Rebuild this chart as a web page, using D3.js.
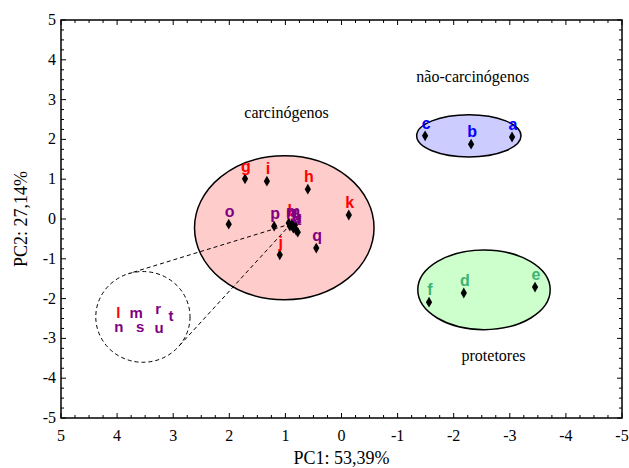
<!DOCTYPE html>
<html><head><meta charset="utf-8">
<script src="https://cdn.jsdelivr.net/npm/d3@7"></script>
<style>body{margin:0;background:#fff}</style>
</head><body><svg id="c" width="629" height="468"></svg>
<script>
// Data
const names  = ["a","b","c","d","e","f","g","h","i","j","k","l","m","n","o","p","q","r","s","t","u"];
const pc1    = [-3.04,-2.31,-1.49,-2.18,-3.45,-1.56,1.72,0.60,1.33,1.10,-0.13,0.94,0.88,0.92,2.01,1.20,0.45,0.83,0.86,0.78,0.81];
const pc2    = [2.06,1.88,2.09,-1.86,-1.71,-2.09,1.01,0.75,0.95,-0.90,0.10,-0.10,-0.13,-0.18,-0.13,-0.18,-0.73,-0.15,-0.23,-0.33,-0.28];
const groups = ["nc","nc","nc","pr","pr","pr","cr","cr","cr","cr","cr","cr","cp","cp","cp","cp","cp","cp","cp","cp","cp"];
const xTicks = [5,4,3,2,1,0,-1,-2,-3,-4,-5];
const yTicks = [5,4,3,2,1,0,-1,-2,-3,-4,-5];
// group ellipses: [cx, cy, rx, ry] in data units
const ellNames = ["cr","nc","pr"];
const ellCx = [1.02, -2.27, -2.54];
const ellCy = [-0.22, 2.09, -1.78];
const ellRx = [1.60, 0.93, 1.18];
const ellRy = [1.81, 0.53, 1.00];
const ellFill = ["#ffcccc","#ccccff","#ccffcc"];
const groupTitles = ["carcinógenos","não-carcinógenos","protetores"];
const titleX = [0.98,-2.34,-2.71];
const titleY = [2.54,3.44,-3.57];
// zoom inset (data units)
const zoomCx = 3.54, zoomCy = -2.46, zoomRx = 0.84, zoomRy = 1.14;
const zoomFrom = [0.90, -0.12];
const zoomNames = ["l","m","r","t","n","s","u"];
const zoomX = [3.98, 3.66, 3.27, 3.04, 3.97, 3.59, 3.25];
const zoomY = [-2.49, -2.49, -2.39, -2.56, -2.84, -2.84, -2.86];
const colorOf = {l:"#ff0000",g:"#ff0000",h:"#ff0000",i:"#ff0000",j:"#ff0000",k:"#ff0000",
  a:"#0000ff",b:"#0000ff",c:"#0000ff",d:"#3cb371",e:"#3cb371",f:"#3cb371"};
const purple = "#800080";

const svg = d3.select("#c");
const L=61,R=622,T=20,B=418;
const x = d3.scaleLinear().domain([5,-5]).range([L,R]);
const y = d3.scaleLinear().domain([-5,5]).range([B,T]);
const serif = "Liberation Serif, Times New Roman, serif";
const sans = "Liberation Sans, Arial, sans-serif";

// ellipses
ellNames.forEach((g,i)=>{
  svg.append("ellipse").attr("cx",x(ellCx[i])).attr("cy",y(ellCy[i]))
    .attr("rx",Math.abs(x(ellCx[i]+ellRx[i])-x(ellCx[i])))
    .attr("ry",Math.abs(y(ellCy[i]+ellRy[i])-y(ellCy[i])))
    .attr("fill",ellFill[i]).attr("stroke","#000").attr("stroke-width",1.5);
  svg.append("text").attr("x",x(titleX[i])).attr("y",y(titleY[i])).attr("text-anchor","middle")
    .style("font-family",serif).attr("font-size",16).text(groupTitles[i]);
});

// zoom inset dashed circle + tangents
const zcx=x(zoomCx), zcy=y(zoomCy);
const zrx=Math.abs(x(zoomCx+zoomRx)-zcx), zry=Math.abs(y(zoomCy+zoomRy)-zcy);
svg.append("ellipse").attr("cx",zcx).attr("cy",zcy).attr("rx",zrx).attr("ry",zry)
  .attr("fill","none").attr("stroke","#000").attr("stroke-dasharray","4,3");
{
  const px=x(zoomFrom[0]), py=y(zoomFrom[1]);
  const ux=(px-zcx)/zrx, uy=(py-zcy)/zry;
  const d=Math.hypot(ux,uy), base=Math.atan2(uy,ux), a=Math.acos(1/d);
  [base+a, base-a].forEach(t=>{
    svg.append("line").attr("x1",px).attr("y1",py)
      .attr("x2",zcx+zrx*Math.cos(t)).attr("y2",zcy+zry*Math.sin(t))
      .attr("stroke","#000").attr("stroke-dasharray","4,3");
  });
}
zoomNames.forEach((n,i)=>{
  svg.append("text").attr("x",x(zoomX[i])).attr("y",y(zoomY[i])).attr("text-anchor","middle")
    .style("font-family",sans).attr("font-weight","bold").attr("font-size",15)
    .attr("fill",colorOf[n]||purple).text(n);
});

// frame
svg.append("rect").attr("x",L).attr("y",T).attr("width",R-L).attr("height",B-T)
  .attr("fill","none").attr("stroke","#000").attr("stroke-width",1.5);
// ticks
const minor = d3.range(-5,5.001,0.25);
minor.forEach(v=>{
  const maj = Math.abs(v-Math.round(v))<1e-6;
  const len = maj?5:3;
  svg.append("line").attr("x1",x(v)).attr("x2",x(v)).attr("y1",B).attr("y2",B-len).attr("stroke","#000");
  svg.append("line").attr("x1",x(v)).attr("x2",x(v)).attr("y1",T).attr("y2",T+len).attr("stroke","#000");
  svg.append("line").attr("y1",y(v)).attr("y2",y(v)).attr("x1",L).attr("x2",L+len).attr("stroke","#000");
  svg.append("line").attr("y1",y(v)).attr("y2",y(v)).attr("x1",R).attr("x2",R-len).attr("stroke","#000");
});
xTicks.forEach(v=>{
  svg.append("text").attr("x",x(v)).attr("y",441).attr("text-anchor","middle")
    .style("font-family",serif).attr("font-size",16).text(v<0?"-"+Math.abs(v):v);
});
yTicks.forEach(v=>{
  svg.append("text").attr("x",56).attr("y",y(v)+5).attr("text-anchor","end")
    .style("font-family",serif).attr("font-size",16).text(v<0?"-"+Math.abs(v):v);
});
svg.append("text").attr("x",(L+R)/2).attr("y",464).attr("text-anchor","middle")
  .style("font-family",serif).attr("font-size",18).text("PC1: 53,39%");
svg.append("text").attr("transform",`translate(27,${(T+B)/2}) rotate(-90)`).attr("text-anchor","middle")
  .style("font-family",serif).attr("font-size",18).text("PC2: 27,14%");

// points
const sym = d3.symbol().type(d3.symbolDiamond).size(34);
names.forEach((n,i)=>{
  svg.append("path").attr("d",sym).attr("transform",`translate(${x(pc1[i])},${y(pc2[i])})`).attr("fill","#000");
});
names.forEach((n,i)=>{
  svg.append("text").attr("x",x(pc1[i])+1).attr("y",y(pc2[i])-7).attr("text-anchor","middle")
    .style("font-family",sans).attr("font-weight","bold").attr("font-size",16)
    .attr("fill",colorOf[n]||purple).text(n);
});
</script></body></html>
